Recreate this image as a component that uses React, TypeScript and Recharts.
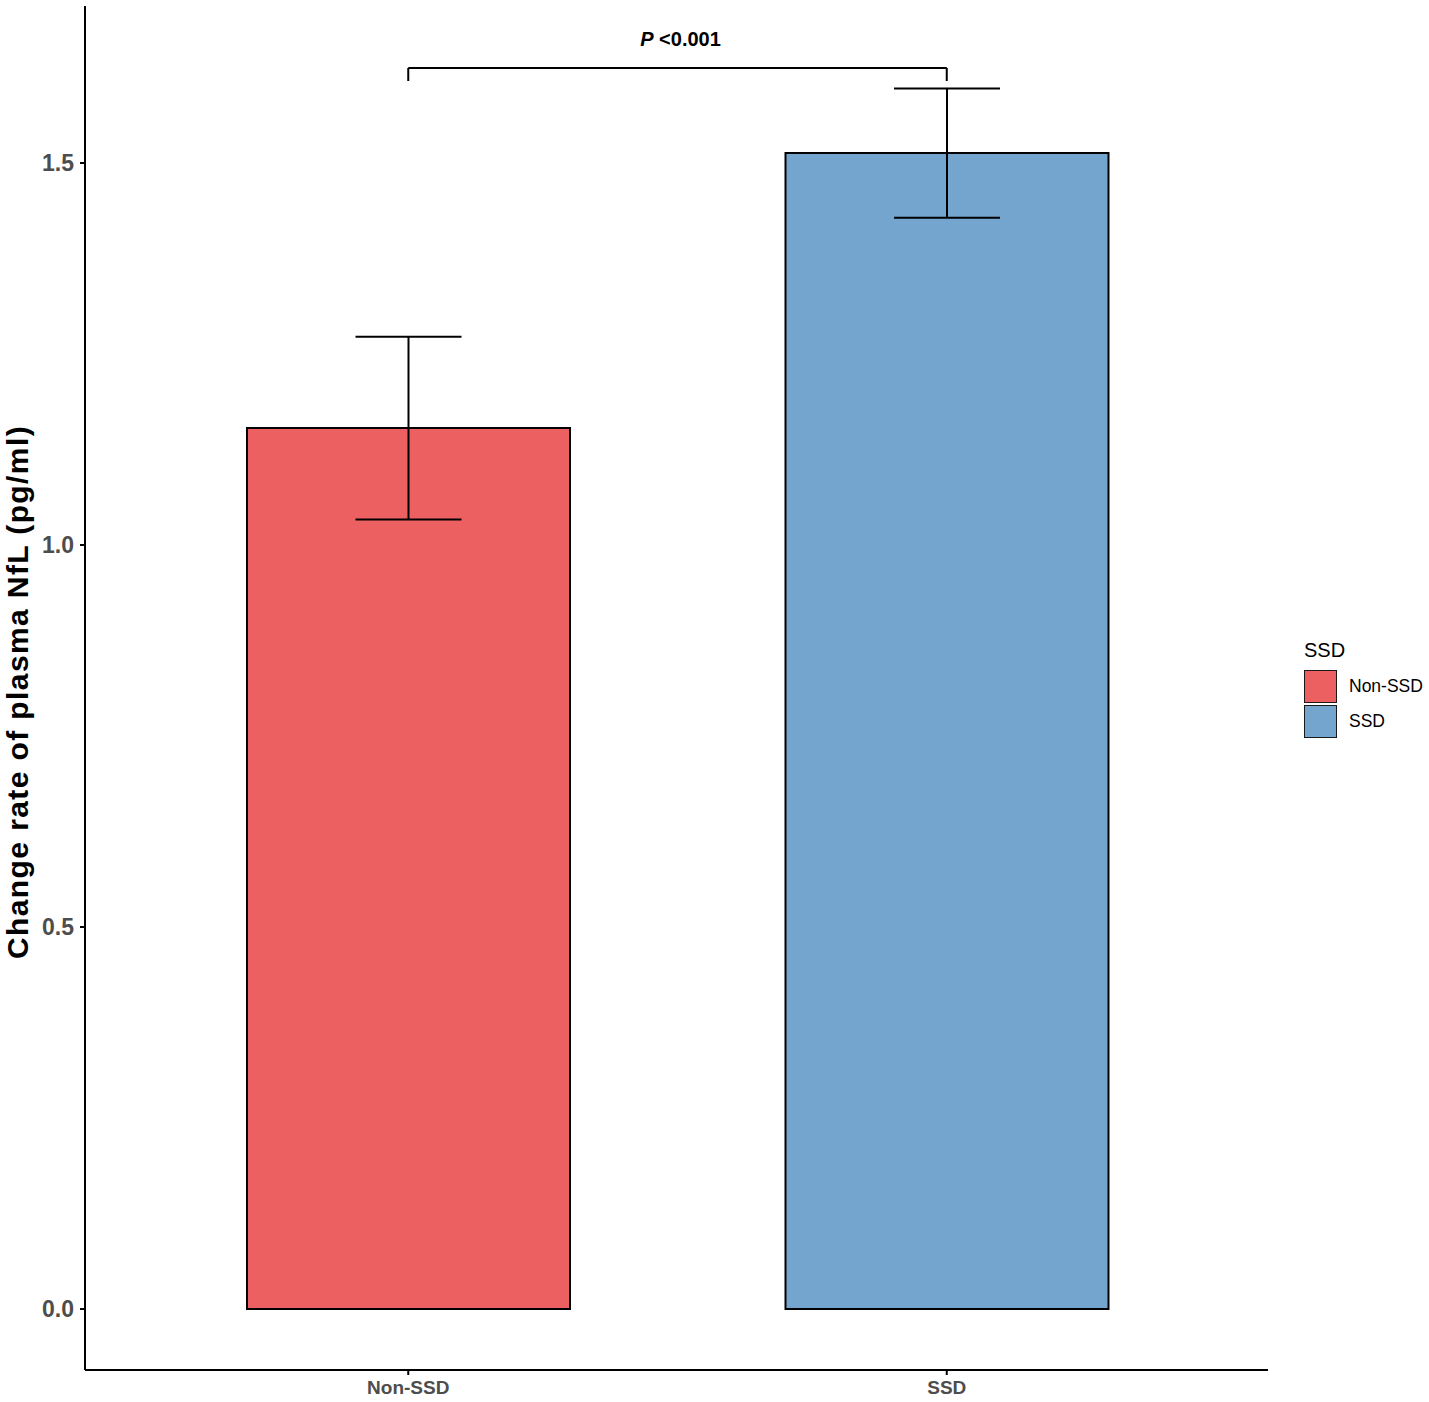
import React from 'react';
import {
  ComposedChart,
  Bar,
  Cell,
  ErrorBar,
  XAxis,
  YAxis,
  ReferenceLine,
  Legend,
} from 'recharts';

const categories = ['Non-SSD', 'SSD'];
const means = [1.153, 1.513];
const errors = [0.1195, 0.0845];
const barColors = ['#EC6061', '#74A5CE'];
const yTicks = [0, 0.5, 1.0, 1.5];
const yDomain = [-0.0798, 1.7055];
const bracketTop = 1.6243;
const bracketBottom = 1.6073;
const legendTitle = 'SSD';
const yTitle = 'Change rate of plasma NfL (pg/ml)';
const pText = '<0.001';

const data = categories.map((c, i) => ({ name: c, value: means[i], err: errors[i] }));

const FONT = '"Liberation Sans", Arial, Helvetica, sans-serif';

const renderYTitle = (props: any) => {
  const vb = props.viewBox || { x: 0, y: 6, width: 85, height: 1364 };
  const cx = vb.x + 28;
  const cy = vb.y + vb.height / 2 + 4;
  return (
    <text
      x={cx}
      y={cy}
      transform={`rotate(-90, ${cx}, ${cy})`}
      textAnchor="middle"
      fontFamily={FONT}
      fontWeight="bold"
      fontSize={30}
      letterSpacing={1.4}
      fill="#000"
    >
      {yTitle}
    </text>
  );
};

const renderP = (props: any) => {
  const vb = props.viewBox || { x: 408, y: 68, width: 538, height: 0 };
  const cx = vb.x + vb.width / 2 + 3;
  const cy = vb.y - 22;
  return (
    <text x={cx} y={cy} textAnchor="middle" fontFamily={FONT} fontWeight="bold" fontSize={20} fill="#000">
      <tspan fontStyle="italic">P</tspan>
      <tspan> {pText}</tspan>
    </text>
  );
};

const renderLegend = () => (
  <div style={{ fontFamily: FONT, color: '#000' }}>
    <div style={{ fontSize: 20, lineHeight: '20px', height: 20, marginBottom: 10 }}>{legendTitle}</div>
    {categories.map((c, i) => (
      <div key={c} style={{ display: 'flex', alignItems: 'center', height: 33, marginBottom: 2 }}>
        <div
          style={{
            width: 33,
            height: 33,
            boxSizing: 'border-box',
            background: barColors[i],
            border: '1.5px solid #1a1a1a',
          }}
        />
        <span style={{ marginLeft: 12, fontSize: 17.5 }}>{c}</span>
      </div>
    ))}
  </div>
);

export default function App() {
  return (
    <div style={{ position: 'absolute', left: 0, top: 0, width: 1429, height: 1402, background: '#fff' }}>
      <ComposedChart
        width={1429}
        height={1402}
        data={data}
        margin={{ top: 6, right: 161, bottom: 0, left: 0 }}
      >
        <XAxis
          dataKey="name"
          type="category"
          height={32}
          padding={{ left: 54, right: 52 }}
          axisLine={{ stroke: '#000', strokeWidth: 2 }}
          tickLine={{ stroke: '#000', strokeWidth: 2 }}
          tickSize={5}
          tickMargin={6}
          tick={{ fill: '#4D4D4D', fontSize: 19, fontWeight: 'bold', fontFamily: FONT }}
        />
        <YAxis
          type="number"
          width={85}
          domain={yDomain}
          allowDataOverflow
          ticks={yTicks}
          tickFormatter={(v: number) => v.toFixed(1)}
          axisLine={{ stroke: '#000', strokeWidth: 2 }}
          tickLine={{ stroke: '#000', strokeWidth: 2 }}
          tickSize={5}
          tickMargin={6}
          tick={{ fill: '#4D4D4D', fontSize: 23, fontWeight: 'bold', fontFamily: FONT }}
          label={{ content: renderYTitle }}
        />
        <Bar dataKey="value" barSize={323} stroke="#000" strokeWidth={2} isAnimationActive={false}>
          {data.map((d, i) => (
            <Cell key={d.name} fill={barColors[i]} />
          ))}
          <ErrorBar dataKey="err" width={53} stroke="#000" strokeWidth={2} direction="y" isAnimationActive={false} />
        </Bar>
        <ReferenceLine
          segment={[
            { x: categories[0], y: bracketTop },
            { x: categories[1], y: bracketTop },
          ]}
          stroke="#000"
          strokeWidth={2}
          ifOverflow="visible"
          label={{ content: renderP }}
        />
        <ReferenceLine
          segment={[
            { x: categories[0], y: bracketTop },
            { x: categories[0], y: bracketBottom },
          ]}
          stroke="#000"
          strokeWidth={2}
          ifOverflow="visible"
        />
        <ReferenceLine
          segment={[
            { x: categories[1], y: bracketTop },
            { x: categories[1], y: bracketBottom },
          ]}
          stroke="#000"
          strokeWidth={2}
          ifOverflow="visible"
        />
        <Legend
          layout="vertical"
          align="center"
          verticalAlign="middle"
          content={renderLegend}
          wrapperStyle={{ position: 'absolute', left: 1304, top: 640, width: 125, height: 110 }}
        />
      </ComposedChart>
    </div>
  );
}
